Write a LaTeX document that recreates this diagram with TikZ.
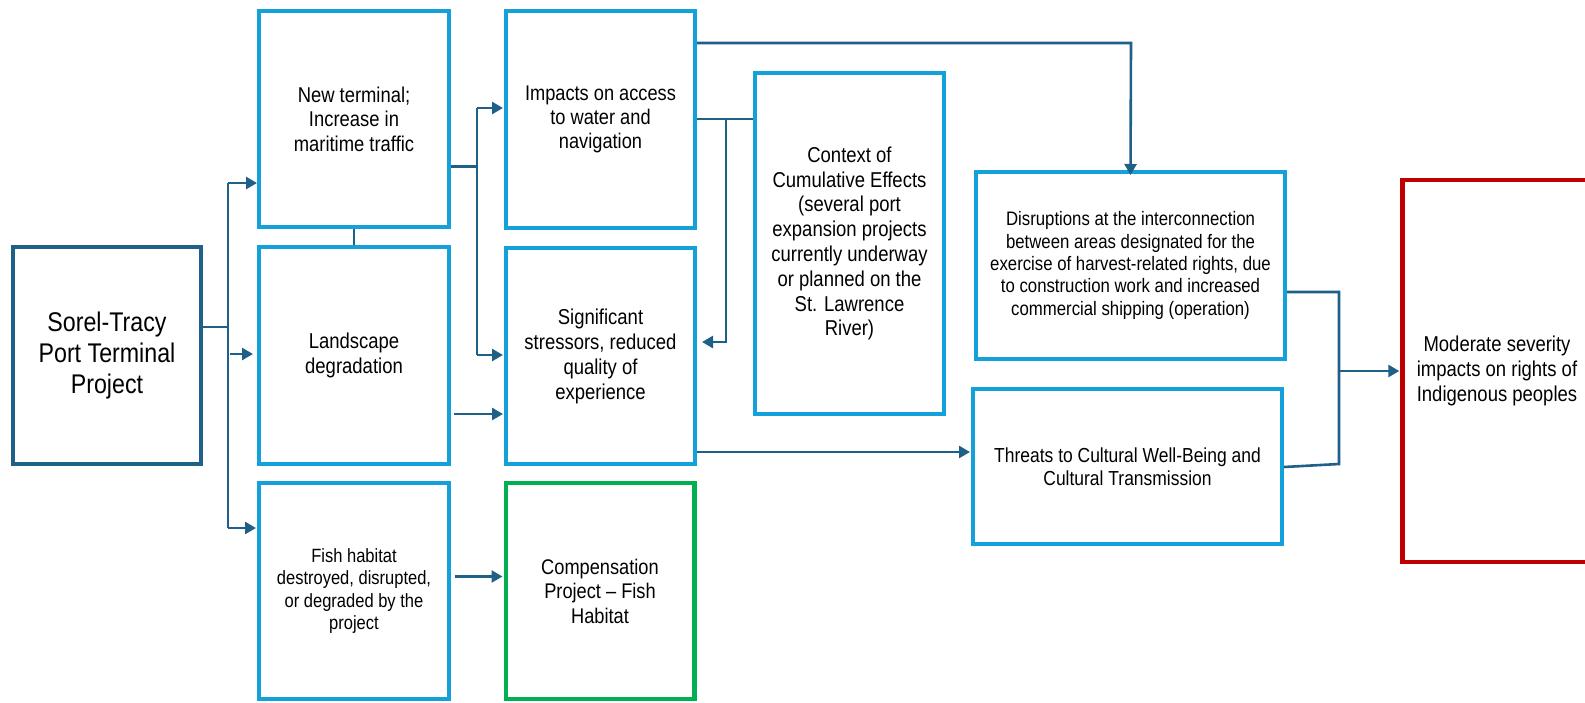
\documentclass[tikz,border=0pt]{standalone}
\usepackage{fontspec}
\setmainfont{Liberation Sans}[FakeStretch=0.86]
\usetikzlibrary{arrows.meta}
\definecolor{lblue}{RGB}{20,160,216}
\definecolor{dblue}{RGB}{30,96,136}
\definecolor{cgreen}{RGB}{0,176,80}
\definecolor{cred}{RGB}{192,0,0}
\newcommand{\fsz}[2]{\fontsize{#1pt}{#2pt}\selectfont}
\tikzset{
  box/.style={draw=lblue, line width=4.4pt, fill=white, align=center, inner sep=0pt},
  conn/.style={draw=dblue, line width=2.6pt},
  arr/.style={conn, -{Triangle[length=11pt,width=12pt]}},
}
\begin{document}
\begin{tikzpicture}[x=1pt,y=-1pt]
\useasboundingbox (0,0) rectangle (1585,702);
\clip (0,0) rectangle (1585,702);
\fill[white] (0,0) rectangle (1585,702);

% nodes
\node[box, draw=dblue, minimum width=188pt, minimum height=216.6pt, font=\fsz{27}{31.3}] (sorel) at (107,355.5)
  {Sorel-Tracy\\Port Terminal\\Project};
\node[box, minimum width=189.6pt, minimum height=215.6pt, font=\fsz{21.4}{24.6}] (nt) at (354,119)
  {New terminal;\\Increase in\\maritime traffic};
\node[box, minimum width=189.6pt, minimum height=216.6pt, font=\fsz{21.5}{25.3}] (land) at (354,355.5)
  {Landscape\\degradation};
\node[box, minimum width=189.6pt, minimum height=215.6pt, font=\fsz{19.2}{22.1}] (fish) at (354,591)
  {Fish habitat\\destroyed, disrupted,\\or degraded by the\\project};
\node[box, minimum width=188.6pt, minimum height=216.6pt, font=\fsz{21.2}{24.3}] (imp) at (600.5,119.5)
  {Impacts on access\\to water and\\navigation};
\node[box, minimum width=188.6pt, minimum height=215.6pt, font=\fsz{21.5}{25}] (str) at (600.5,356)
  {Significant\\stressors, reduced\\quality of\\experience};
\node[box, draw=cgreen, minimum width=188.6pt, minimum height=215.6pt, font=\fsz{21.2}{24.5}] (comp) at (600,591)
  {Compensation\\Project -- Fish\\Habitat};
\node[box, minimum width=188.6pt, minimum height=340.6pt, font=\fsz{21.5}{24.8}] (ctx) at (849.5,243.5)
  {Context of\\Cumulative Effects\\(several port\\expansion projects\\currently underway\\or planned on the\\St. Lawrence\\River)};
\node[box, minimum width=308.6pt, minimum height=186.6pt, font=\fsz{19.5}{22.4}] (disr) at (1130.5,265.5)
  {Disruptions at the interconnection\\between areas designated for the\\exercise of harvest-related rights, due\\to construction work and increased\\commercial shipping (operation)};
\node[box, minimum width=308.6pt, minimum height=154.6pt, font=\fsz{20.3}{23.3}] (thr) at (1127.5,466.5)
  {Threats to Cultural Well-Being and\\Cultural Transmission};
\node[box, draw=cred, minimum width=189pt, minimum height=381.6pt, font=\fsz{21.5}{24.8}] (mod) at (1497,371)
  {Moderate severity\\impacts on rights of\\Indigenous peoples};

% junction coordinates
\coordinate (a0) at (228,327);
\coordinate (a1) at (228,183);
\coordinate (a2) at (228,528);
\coordinate (b0) at (477,166.5);
\coordinate (b1) at (477,108);
\coordinate (b2) at (477,355);
\coordinate (c0) at (726,119);
\coordinate (c1) at (726,342);
\coordinate (d0) at (1131,43);
\coordinate (e0) at (1339,292);
\coordinate (e1) at (1339,464);
\coordinate (e2) at (1339,371);

% Sorel fan-out
\draw[conn] (sorel.east |- a0) -- (a0);
\draw[conn] (a1) -- (a2);
\draw[arr] (a1) -- (nt.west |- a1);
\draw[arr] (230,354) -- ([xshift=-4pt]land.west |- 0,354);
\draw[arr] (a2) -- ([xshift=-1pt]fish.west |- a2);

% NT - Landscape link
\draw[conn] (nt.south) -- (land.north);

% NT fan-out
\draw[conn] (nt.east |- b0) -- (b0);
\draw[conn] (b1) -- (b2);
\draw[arr] (b1) -- ([xshift=-1pt]imp.west |- b1);
\draw[arr] (b2) -- ([xshift=-1pt]str.west |- b2);

% Landscape -> stressors, Fish -> compensation
\draw[arr] ([xshift=3pt]land.east |- 0,414) -- ([xshift=-1pt]str.west |- 0,414);
\draw[arr] ([xshift=4pt]fish.east |- 0,576.5) -- ([xshift=-1pt]comp.west |- 0,576.5);

% Impacts -> Disruptions
\draw[arr] (imp.east |- d0) -- (d0) -- ([yshift=-5pt]disr.north);

% Impacts -> Context, Context -> Stressors
\draw[conn] (imp.east |- c0) -- (ctx.west |- c0);
\draw[arr] (c0) -- (c1) -- ([xshift=5pt]str.east |- c1);

% Stressors -> Threats
\draw[arr] (str.east |- 0,452) -- ([xshift=-1pt]thr.west |- 0,452);

% Disruptions/Threats -> Moderate
\draw[conn] (disr.east |- e0) -- (e0) -- (e1) -- (thr.east |- 0,467);
\draw[arr] (e2) -- ([xshift=-1pt]mod.west);
\end{tikzpicture}
\end{document}
